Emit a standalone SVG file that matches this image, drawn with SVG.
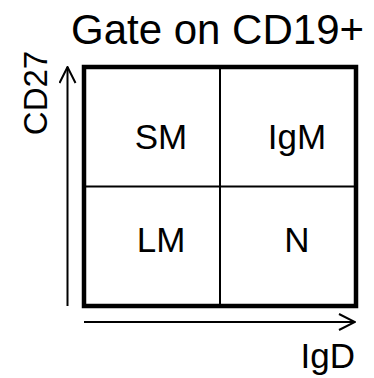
<svg xmlns="http://www.w3.org/2000/svg" width="374" height="378" viewBox="0 0 374 378">
  <style>
    text { font-family: "Liberation Sans", Arial, sans-serif; fill: #000; }
    .title { font-size: 42px; }
    .lbl { font-size: 35px; text-anchor: middle; }
    .axis-lbl { font-size: 33px; }
    .frame { fill: #fff; stroke: #000; stroke-width: 4.5; }
    .div { stroke: #000; stroke-width: 2; }
    .axis { fill: none; stroke: #000; stroke-width: 2; }
  </style>
  <defs>
    <marker id="open-arrow" viewBox="0 0 18 18" refX="17" refY="9" markerWidth="18" markerHeight="18" markerUnits="userSpaceOnUse" orient="auto">
      <path d="M1,1 L17,9 L1,17" fill="none" stroke="#000" stroke-width="2"/>
    </marker>
  </defs>
  <rect width="374" height="378" fill="#fff"/>

  <g id="title">
    <text class="title" x="71" y="44">Gate on CD19+</text>
  </g>

  <g id="quadrant-frame">
    <rect class="frame" x="84" y="67" width="272" height="239"/>
    <line class="div" x1="220" y1="67" x2="220" y2="306"/>
    <line class="div" x1="84" y1="186.5" x2="356" y2="186.5"/>
  </g>

  <g id="node-SM"><text class="lbl" x="161" y="149">SM</text></g>
  <g id="node-IgM"><text class="lbl" x="297" y="149">IgM</text></g>
  <g id="node-LM"><text class="lbl" x="161" y="252">LM</text></g>
  <g id="node-N"><text class="lbl" x="297" y="252">N</text></g>

  <g id="connectors">
    <line class="axis" x1="67.5" y1="306" x2="67.5" y2="67" marker-end="url(#open-arrow)"/>
    <line class="axis" x1="84" y1="322" x2="355" y2="322" marker-end="url(#open-arrow)"/>
  </g>

  <g id="axis-y"><text class="axis-lbl" transform="translate(47,93) rotate(-90)" text-anchor="middle">CD27</text></g>
  <g id="axis-x"><text class="axis-lbl" x="355" y="368" text-anchor="end" style="font-size:35px">IgD</text></g>
</svg>
